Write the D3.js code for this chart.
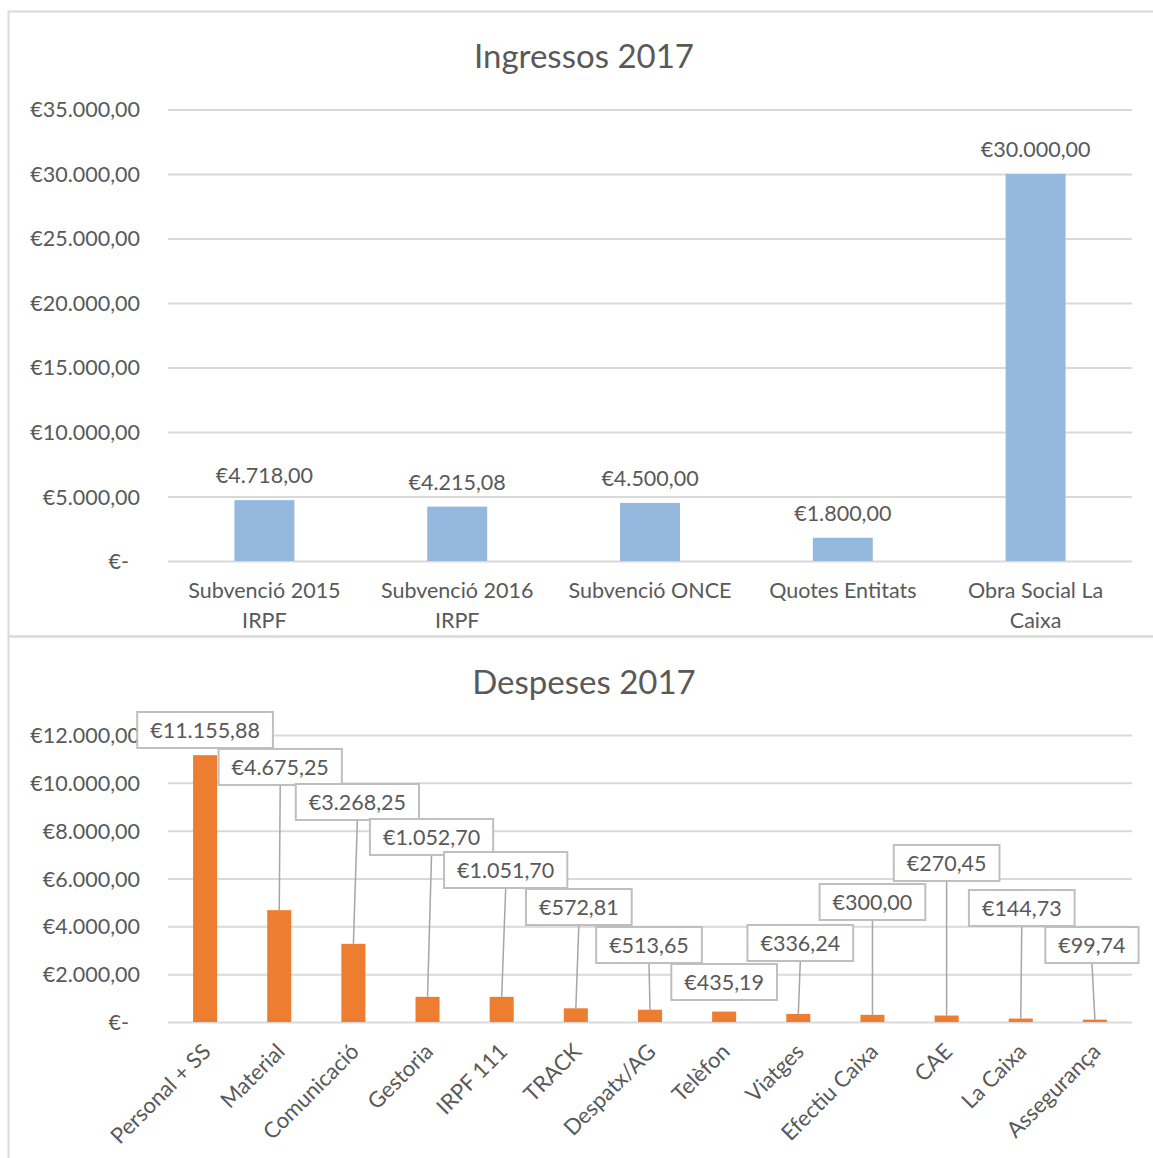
<!DOCTYPE html>
<html><head><meta charset="utf-8">
<script src="https://cdn.jsdelivr.net/npm/d3@7"></script>
<style>
html,body{margin:0;padding:0;background:#fff;}
text{font-family:Lato,"Open Sans",sans-serif;fill:#595959;}
</style></head>
<body>
<svg id="c" width="1153" height="1158"></svg>
<script>
// ---------- data ----------
const incomeTitle = "Ingressos 2017";
const incomeCategories = ["Subvenció 2015 IRPF","Subvenció 2016 IRPF","Subvenció ONCE","Quotes Entitats","Obra Social La Caixa"];
const incomeValues = [4718.00, 4215.08, 4500.00, 1800.00, 30000.00];
const incomeTicks = [0,5000,10000,15000,20000,25000,30000,35000];

const expenseTitle = "Despeses 2017";
const expenseCategories = ["Personal + SS","Material","Comunicació","Gestoria","IRPF 111","TRACK","Despatx/AG","Telèfon","Viatges","Efectiu Caixa","CAE","La Caixa","Assegurança"];
const expenseValues = [11155.88, 4675.25, 3268.25, 1052.70, 1051.70, 572.81, 513.65, 435.19, 336.24, 300.00, 270.45, 144.73, 99.74];
const expenseTicks = [0,2000,4000,6000,8000,10000,12000];

// label placement (layout): box centre level in value units, and x shift in px
const expenseLabelLevel = [12210,10663,9199,7736,6356,4809,3220,1673,3303,5018,6649,4767,3220];
const expenseLabelShift = [0,1,4,4,4,3,-1,0,2,0,0,1,-3];

// ---------- formatting ----------
const loc = d3.formatLocale({decimal:",",thousands:".",grouping:[3],currency:["€",""]});
const f = loc.format("$,.2f");
const money = v => v === 0 ? "€-" : f(v);

const svg = d3.select("#c");
const textCol = "#595959", gridCol = "#d9d9d9";

// frames
svg.append("rect").attr("x",8.5).attr("y",11.5).attr("width",1160).attr("height",625)
  .attr("fill","none").attr("stroke",gridCol).attr("stroke-width",2);
svg.append("rect").attr("x",8.5).attr("y",636.5).attr("width",1160).attr("height",600)
  .attr("fill","none").attr("stroke",gridCol).attr("stroke-width",2);

function wrap(sel, maxW, lh){
  sel.each(function(){
    const t = d3.select(this), words = t.text().split(" "), x = t.attr("x");
    t.text(null);
    let line=[], ts = t.append("tspan").attr("x",x).attr("dy",0);
    words.forEach(w=>{
      line.push(w); ts.text(line.join(" "));
      if(ts.node().getComputedTextLength()>maxW && line.length>1){
        line.pop(); ts.text(line.join(" "));
        line=[w];
        ts = t.append("tspan").attr("x",x).attr("dy",lh).text(w);
      }
    });
  });
}

// ---------- top chart ----------
(function(){
  const L=168,R=1132,T=109.4,B=561;
  const x = d3.scaleBand().domain(incomeCategories).range([L,R]).paddingInner(0.689).paddingOuter(0.3445);
  const y = d3.scaleLinear().domain([0,35000]).range([B,T]);
  svg.append("text").attr("x",584).attr("y",55).attr("text-anchor","middle").attr("dominant-baseline","central")
    .style("font-size","33px").text(incomeTitle);
  const g = svg.append("g");
  const ax = d3.axisLeft(y).tickValues(incomeTicks).tickSize(-(R-L)).tickFormat(money).tickPadding(28);
  const ga = g.append("g").attr("transform",`translate(${L},0)`).call(ax);
  ga.select(".domain").remove();
  ga.selectAll(".tick line").attr("stroke",gridCol).attr("stroke-width",2);
  ga.selectAll(".tick text").style("font-size","21.5px").attr("fill",textCol).attr("dy","0.35em")
    .attr("dx",d=>d===0?-11:0);
  g.selectAll(".bar").data(incomeValues).join("rect")
    .attr("x",(d,i)=>x(incomeCategories[i])).attr("width",x.bandwidth())
    .attr("y",d=>y(d)).attr("height",d=>B-y(d)).attr("fill","#95b8df");
  g.selectAll(".vl").data(incomeValues).join("text")
    .attr("x",(d,i)=>x(incomeCategories[i])+x.bandwidth()/2).attr("y",d=>y(d)-25)
    .attr("text-anchor","middle").attr("dominant-baseline","central").style("font-size","21.5px").text(d=>money(d));
  g.selectAll(".cl").data(incomeCategories).join("text")
    .attr("x",d=>x(d)+x.bandwidth()/2).attr("y",598).attr("text-anchor","middle")
    .style("font-size","21.5px").text(d=>d).call(wrap,175,30);
})();

// ---------- bottom chart ----------
(function(){
  const L=168,R=1132,T=735,B=1022;
  const x = d3.scaleBand().domain(expenseCategories).range([L,R]).paddingInner(0.676).paddingOuter(0.338);
  const y = d3.scaleLinear().domain([0,12000]).range([B,T]);
  svg.append("text").attr("x",584).attr("y",681).attr("text-anchor","middle").attr("dominant-baseline","central")
    .style("font-size","33px").text(expenseTitle);
  const g = svg.append("g");
  const ax = d3.axisLeft(y).tickValues(expenseTicks).tickSize(-(R-L)).tickFormat(money).tickPadding(28);
  const ga = g.append("g").attr("transform",`translate(${L},0)`).call(ax);
  ga.select(".domain").remove();
  ga.selectAll(".tick line").attr("stroke",gridCol).attr("stroke-width",2);
  ga.selectAll(".tick text").style("font-size","21.5px").attr("fill",textCol).attr("dy","0.35em")
    .attr("dx",d=>d===0?-11:0);
  const cx = i => x(expenseCategories[i])+x.bandwidth()/2;
  g.selectAll(".bar").data(expenseValues).join("rect")
    .attr("x",(d,i)=>x(expenseCategories[i])).attr("width",x.bandwidth())
    .attr("y",d=>y(d)).attr("height",d=>B-y(d)).attr("fill","#ed7d31");
  // labels
  const lg = g.append("g");
  expenseValues.forEach((v,i)=>{
    const lx = cx(i)+expenseLabelShift[i], ly = y(expenseLabelLevel[i]);
    const t = lg.append("text").attr("x",lx).attr("y",ly).attr("text-anchor","middle")
      .attr("dominant-baseline","central").style("font-size","21.5px").text(money(v));
    const w = t.node().getComputedTextLength()+26, h=36;
    const boxBottom = ly+h/2;
    if(y(v)-boxBottom>15){
      lg.insert("line","text").attr("x1",lx).attr("y1",boxBottom).attr("x2",cx(i)).attr("y2",y(v))
        .attr("stroke","#a6a6a6").attr("stroke-width",1.5);
    }
    lg.insert("rect","text").attr("x",lx-w/2).attr("y",ly-h/2).attr("width",w).attr("height",h)
      .attr("fill","#fff").attr("stroke","#bfbfbf").attr("stroke-width",2);
  });
  g.selectAll(".cl").data(expenseCategories).join("text")
    .attr("transform",(d,i)=>`translate(${cx(i)+1},${B+25}) rotate(-45)`)
    .attr("text-anchor","end").attr("dominant-baseline","central").style("font-size","22px").text(d=>d);
})();
</script>
</body></html>
